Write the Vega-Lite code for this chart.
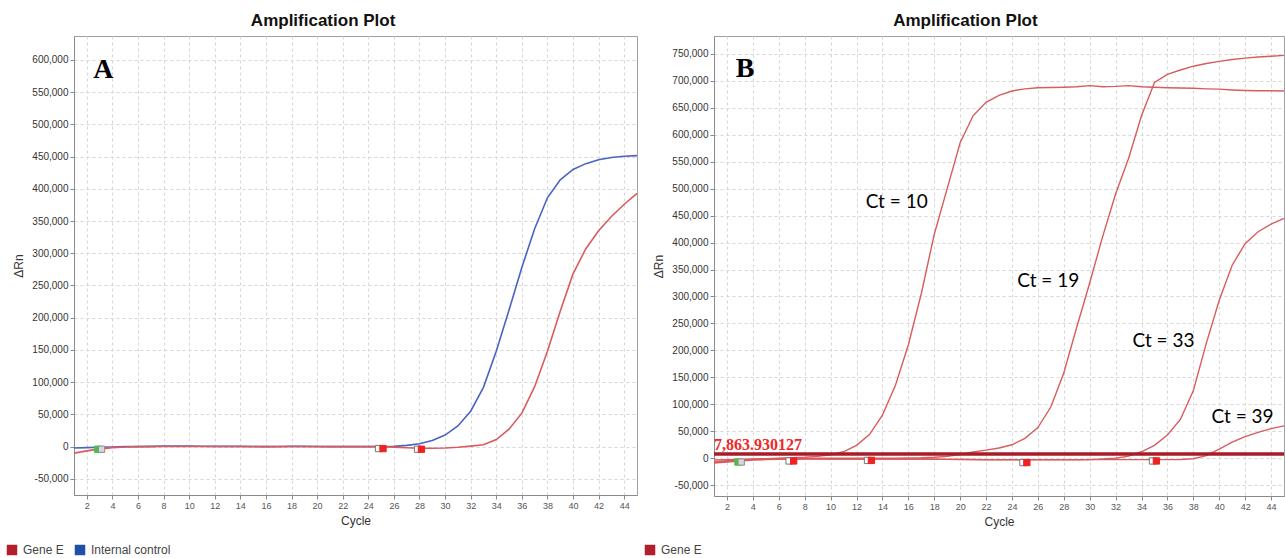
{
  "$schema": "https://vega.github.io/schema/vega-lite/v6.json",
  "background": "white",
  "padding": {"left": 5, "top": 11, "right": 0, "bottom": 0},
  "config": {
    "locale": {"number": {"decimal": ".", "thousands": ",", "grouping": [3], "currency": ["$", ""], "minus": "-"}},
    "view": {"stroke": "#a0a0a0", "strokeWidth": 1},
    "axis": {
      "labelFont": "Liberation Sans", "labelFontSize": 10, "labelColor": "#333",
      "titleFont": "Liberation Sans", "titleFontSize": 12, "titleFontWeight": "normal", "titleColor": "#333",
      "gridColor": "#d6d6d6", "gridDash": [3, 3], "gridWidth": 1,
      "domainColor": "#8a8a8a", "tickColor": "#8a8a8a", "tickSize": 4, "labelPadding": 2,
      "labelOverlap": false, "labelFlush": false
    },
    "axisX": {"labelFontSize": 9, "labelColor": "#555", "titlePadding": 5},
    "axisY": {"titlePadding": 6},
    "title": {"font": "Liberation Sans", "fontSize": 17, "fontWeight": "bold", "color": "#111", "anchor": "middle", "frame": "bounds", "offset": 6},
    "legend": {"orient": "none", "direction": "horizontal", "title": null, "symbolType": "square", "symbolSize": 110, "labelFont": "Liberation Sans", "labelFontSize": 12, "labelColor": "#444", "columnPadding": 10, "labelOffset": 5, "padding": 0}
  },
  "datasets": {
    "ampA": [
      {"cycle":1,"dRn":-2000,"target":"Internal control"},{"cycle":2,"dRn":-1500,"target":"Internal control"},{"cycle":3,"dRn":-1000,"target":"Internal control"},{"cycle":4,"dRn":-500,"target":"Internal control"},{"cycle":5,"dRn":0,"target":"Internal control"},{"cycle":6,"dRn":0,"target":"Internal control"},{"cycle":7,"dRn":500,"target":"Internal control"},{"cycle":8,"dRn":1000,"target":"Internal control"},{"cycle":9,"dRn":1000,"target":"Internal control"},{"cycle":10,"dRn":800,"target":"Internal control"},{"cycle":11,"dRn":600,"target":"Internal control"},{"cycle":12,"dRn":500,"target":"Internal control"},{"cycle":13,"dRn":500,"target":"Internal control"},{"cycle":14,"dRn":500,"target":"Internal control"},{"cycle":15,"dRn":300,"target":"Internal control"},{"cycle":16,"dRn":0,"target":"Internal control"},{"cycle":17,"dRn":200,"target":"Internal control"},{"cycle":18,"dRn":500,"target":"Internal control"},{"cycle":19,"dRn":500,"target":"Internal control"},{"cycle":20,"dRn":300,"target":"Internal control"},{"cycle":21,"dRn":0,"target":"Internal control"},{"cycle":22,"dRn":0,"target":"Internal control"},{"cycle":23,"dRn":0,"target":"Internal control"},{"cycle":24,"dRn":0,"target":"Internal control"},{"cycle":25,"dRn":200,"target":"Internal control"},{"cycle":26,"dRn":500,"target":"Internal control"},{"cycle":27,"dRn":2000,"target":"Internal control"},{"cycle":28,"dRn":4500,"target":"Internal control"},{"cycle":29,"dRn":9500,"target":"Internal control"},{"cycle":30,"dRn":18000,"target":"Internal control"},{"cycle":31,"dRn":32000,"target":"Internal control"},{"cycle":32,"dRn":55000,"target":"Internal control"},{"cycle":33,"dRn":92000,"target":"Internal control"},{"cycle":34,"dRn":148000,"target":"Internal control"},{"cycle":35,"dRn":212000,"target":"Internal control"},{"cycle":36,"dRn":278000,"target":"Internal control"},{"cycle":37,"dRn":338000,"target":"Internal control"},{"cycle":38,"dRn":386000,"target":"Internal control"},{"cycle":39,"dRn":414000,"target":"Internal control"},{"cycle":40,"dRn":430000,"target":"Internal control"},{"cycle":41,"dRn":439000,"target":"Internal control"},{"cycle":42,"dRn":445000,"target":"Internal control"},{"cycle":43,"dRn":448500,"target":"Internal control"},{"cycle":44,"dRn":450500,"target":"Internal control"},{"cycle":45,"dRn":451500,"target":"Internal control"},
      {"cycle":1,"dRn":-10000,"target":"Gene E"},{"cycle":2,"dRn":-6500,"target":"Gene E"},{"cycle":3,"dRn":-3500,"target":"Gene E"},{"cycle":4,"dRn":-1500,"target":"Gene E"},{"cycle":5,"dRn":-500,"target":"Gene E"},{"cycle":6,"dRn":0,"target":"Gene E"},{"cycle":7,"dRn":0,"target":"Gene E"},{"cycle":8,"dRn":200,"target":"Gene E"},{"cycle":9,"dRn":300,"target":"Gene E"},{"cycle":10,"dRn":300,"target":"Gene E"},{"cycle":11,"dRn":200,"target":"Gene E"},{"cycle":12,"dRn":200,"target":"Gene E"},{"cycle":13,"dRn":200,"target":"Gene E"},{"cycle":14,"dRn":200,"target":"Gene E"},{"cycle":15,"dRn":100,"target":"Gene E"},{"cycle":16,"dRn":0,"target":"Gene E"},{"cycle":17,"dRn":100,"target":"Gene E"},{"cycle":18,"dRn":200,"target":"Gene E"},{"cycle":19,"dRn":200,"target":"Gene E"},{"cycle":20,"dRn":100,"target":"Gene E"},{"cycle":21,"dRn":0,"target":"Gene E"},{"cycle":22,"dRn":0,"target":"Gene E"},{"cycle":23,"dRn":0,"target":"Gene E"},{"cycle":24,"dRn":0,"target":"Gene E"},{"cycle":25,"dRn":0,"target":"Gene E"},{"cycle":26,"dRn":-800,"target":"Gene E"},{"cycle":27,"dRn":-1800,"target":"Gene E"},{"cycle":28,"dRn":-2500,"target":"Gene E"},{"cycle":29,"dRn":-2500,"target":"Gene E"},{"cycle":30,"dRn":-2000,"target":"Gene E"},{"cycle":31,"dRn":-1000,"target":"Gene E"},{"cycle":32,"dRn":800,"target":"Gene E"},{"cycle":33,"dRn":3000,"target":"Gene E"},{"cycle":34,"dRn":11000,"target":"Gene E"},{"cycle":35,"dRn":27000,"target":"Gene E"},{"cycle":36,"dRn":52000,"target":"Gene E"},{"cycle":37,"dRn":93000,"target":"Gene E"},{"cycle":38,"dRn":148000,"target":"Gene E"},{"cycle":39,"dRn":210000,"target":"Gene E"},{"cycle":40,"dRn":268000,"target":"Gene E"},{"cycle":41,"dRn":307000,"target":"Gene E"},{"cycle":42,"dRn":335000,"target":"Gene E"},{"cycle":43,"dRn":357000,"target":"Gene E"},{"cycle":44,"dRn":376000,"target":"Gene E"},{"cycle":45,"dRn":393000,"target":"Gene E"}
    ],
    "ampB": [
      {"cycle":1,"dRn":-3000,"run":1,"target":"Gene E"},{"cycle":2,"dRn":-2500,"run":1,"target":"Gene E"},{"cycle":3,"dRn":-2000,"run":1,"target":"Gene E"},{"cycle":4,"dRn":-1500,"run":1,"target":"Gene E"},{"cycle":5,"dRn":-800,"run":1,"target":"Gene E"},{"cycle":6,"dRn":0,"run":1,"target":"Gene E"},{"cycle":7,"dRn":800,"run":1,"target":"Gene E"},{"cycle":8,"dRn":1800,"run":1,"target":"Gene E"},{"cycle":9,"dRn":3500,"run":1,"target":"Gene E"},{"cycle":10,"dRn":6500,"run":1,"target":"Gene E"},{"cycle":11,"dRn":12000,"run":1,"target":"Gene E"},{"cycle":12,"dRn":24000,"run":1,"target":"Gene E"},{"cycle":13,"dRn":44000,"run":1,"target":"Gene E"},{"cycle":14,"dRn":80000,"run":1,"target":"Gene E"},{"cycle":15,"dRn":135000,"run":1,"target":"Gene E"},{"cycle":16,"dRn":210000,"run":1,"target":"Gene E"},{"cycle":17,"dRn":305000,"run":1,"target":"Gene E"},{"cycle":18,"dRn":415000,"run":1,"target":"Gene E"},{"cycle":19,"dRn":500000,"run":1,"target":"Gene E"},{"cycle":20,"dRn":585000,"run":1,"target":"Gene E"},{"cycle":21,"dRn":635000,"run":1,"target":"Gene E"},{"cycle":22,"dRn":660000,"run":1,"target":"Gene E"},{"cycle":23,"dRn":673000,"run":1,"target":"Gene E"},{"cycle":24,"dRn":681000,"run":1,"target":"Gene E"},{"cycle":25,"dRn":685000,"run":1,"target":"Gene E"},{"cycle":26,"dRn":687000,"run":1,"target":"Gene E"},{"cycle":27,"dRn":687500,"run":1,"target":"Gene E"},{"cycle":28,"dRn":688000,"run":1,"target":"Gene E"},{"cycle":29,"dRn":689000,"run":1,"target":"Gene E"},{"cycle":30,"dRn":691000,"run":1,"target":"Gene E"},{"cycle":31,"dRn":689000,"run":1,"target":"Gene E"},{"cycle":32,"dRn":689500,"run":1,"target":"Gene E"},{"cycle":33,"dRn":691000,"run":1,"target":"Gene E"},{"cycle":34,"dRn":689000,"run":1,"target":"Gene E"},{"cycle":35,"dRn":688000,"run":1,"target":"Gene E"},{"cycle":36,"dRn":687000,"run":1,"target":"Gene E"},{"cycle":37,"dRn":686500,"run":1,"target":"Gene E"},{"cycle":38,"dRn":686000,"run":1,"target":"Gene E"},{"cycle":39,"dRn":685000,"run":1,"target":"Gene E"},{"cycle":40,"dRn":684500,"run":1,"target":"Gene E"},{"cycle":41,"dRn":683000,"run":1,"target":"Gene E"},{"cycle":42,"dRn":682000,"run":1,"target":"Gene E"},{"cycle":43,"dRn":681500,"run":1,"target":"Gene E"},{"cycle":44,"dRn":681500,"run":1,"target":"Gene E"},{"cycle":45,"dRn":681000,"run":1,"target":"Gene E"},
      {"cycle":1,"dRn":-6000,"run":2,"target":"Gene E"},{"cycle":2,"dRn":-4500,"run":2,"target":"Gene E"},{"cycle":3,"dRn":-3000,"run":2,"target":"Gene E"},{"cycle":4,"dRn":-2000,"run":2,"target":"Gene E"},{"cycle":5,"dRn":-1200,"run":2,"target":"Gene E"},{"cycle":6,"dRn":-800,"run":2,"target":"Gene E"},{"cycle":7,"dRn":-500,"run":2,"target":"Gene E"},{"cycle":8,"dRn":-300,"run":2,"target":"Gene E"},{"cycle":9,"dRn":0,"run":2,"target":"Gene E"},{"cycle":10,"dRn":0,"run":2,"target":"Gene E"},{"cycle":11,"dRn":0,"run":2,"target":"Gene E"},{"cycle":12,"dRn":0,"run":2,"target":"Gene E"},{"cycle":13,"dRn":0,"run":2,"target":"Gene E"},{"cycle":14,"dRn":0,"run":2,"target":"Gene E"},{"cycle":15,"dRn":200,"run":2,"target":"Gene E"},{"cycle":16,"dRn":400,"run":2,"target":"Gene E"},{"cycle":17,"dRn":800,"run":2,"target":"Gene E"},{"cycle":18,"dRn":1800,"run":2,"target":"Gene E"},{"cycle":19,"dRn":3500,"run":2,"target":"Gene E"},{"cycle":20,"dRn":7000,"run":2,"target":"Gene E"},{"cycle":21,"dRn":11500,"run":2,"target":"Gene E"},{"cycle":22,"dRn":15000,"run":2,"target":"Gene E"},{"cycle":23,"dRn":19000,"run":2,"target":"Gene E"},{"cycle":24,"dRn":25000,"run":2,"target":"Gene E"},{"cycle":25,"dRn":37000,"run":2,"target":"Gene E"},{"cycle":26,"dRn":57000,"run":2,"target":"Gene E"},{"cycle":27,"dRn":95000,"run":2,"target":"Gene E"},{"cycle":28,"dRn":158000,"run":2,"target":"Gene E"},{"cycle":29,"dRn":243000,"run":2,"target":"Gene E"},{"cycle":30,"dRn":325000,"run":2,"target":"Gene E"},{"cycle":31,"dRn":411000,"run":2,"target":"Gene E"},{"cycle":32,"dRn":490000,"run":2,"target":"Gene E"},{"cycle":33,"dRn":556000,"run":2,"target":"Gene E"},{"cycle":34,"dRn":635000,"run":2,"target":"Gene E"},{"cycle":35,"dRn":697000,"run":2,"target":"Gene E"},{"cycle":36,"dRn":712000,"run":2,"target":"Gene E"},{"cycle":37,"dRn":720000,"run":2,"target":"Gene E"},{"cycle":38,"dRn":727000,"run":2,"target":"Gene E"},{"cycle":39,"dRn":732000,"run":2,"target":"Gene E"},{"cycle":40,"dRn":736000,"run":2,"target":"Gene E"},{"cycle":41,"dRn":739500,"run":2,"target":"Gene E"},{"cycle":42,"dRn":742000,"run":2,"target":"Gene E"},{"cycle":43,"dRn":744000,"run":2,"target":"Gene E"},{"cycle":44,"dRn":745500,"run":2,"target":"Gene E"},{"cycle":45,"dRn":747000,"run":2,"target":"Gene E"},
      {"cycle":1,"dRn":-8000,"run":3,"target":"Gene E"},{"cycle":2,"dRn":-6000,"run":3,"target":"Gene E"},{"cycle":3,"dRn":-4000,"run":3,"target":"Gene E"},{"cycle":4,"dRn":-2500,"run":3,"target":"Gene E"},{"cycle":5,"dRn":-1500,"run":3,"target":"Gene E"},{"cycle":6,"dRn":-1000,"run":3,"target":"Gene E"},{"cycle":7,"dRn":-1000,"run":3,"target":"Gene E"},{"cycle":8,"dRn":-1000,"run":3,"target":"Gene E"},{"cycle":9,"dRn":-1200,"run":3,"target":"Gene E"},{"cycle":10,"dRn":-1500,"run":3,"target":"Gene E"},{"cycle":11,"dRn":-1500,"run":3,"target":"Gene E"},{"cycle":12,"dRn":-1500,"run":3,"target":"Gene E"},{"cycle":13,"dRn":-1500,"run":3,"target":"Gene E"},{"cycle":14,"dRn":-1500,"run":3,"target":"Gene E"},{"cycle":15,"dRn":-1500,"run":3,"target":"Gene E"},{"cycle":16,"dRn":-1500,"run":3,"target":"Gene E"},{"cycle":17,"dRn":-1500,"run":3,"target":"Gene E"},{"cycle":18,"dRn":-1800,"run":3,"target":"Gene E"},{"cycle":19,"dRn":-2000,"run":3,"target":"Gene E"},{"cycle":20,"dRn":-2200,"run":3,"target":"Gene E"},{"cycle":21,"dRn":-2500,"run":3,"target":"Gene E"},{"cycle":22,"dRn":-2800,"run":3,"target":"Gene E"},{"cycle":23,"dRn":-3000,"run":3,"target":"Gene E"},{"cycle":24,"dRn":-3000,"run":3,"target":"Gene E"},{"cycle":25,"dRn":-3000,"run":3,"target":"Gene E"},{"cycle":26,"dRn":-3000,"run":3,"target":"Gene E"},{"cycle":27,"dRn":-3000,"run":3,"target":"Gene E"},{"cycle":28,"dRn":-3000,"run":3,"target":"Gene E"},{"cycle":29,"dRn":-2800,"run":3,"target":"Gene E"},{"cycle":30,"dRn":-2500,"run":3,"target":"Gene E"},{"cycle":31,"dRn":-1500,"run":3,"target":"Gene E"},{"cycle":32,"dRn":0,"run":3,"target":"Gene E"},{"cycle":33,"dRn":4000,"run":3,"target":"Gene E"},{"cycle":34,"dRn":12000,"run":3,"target":"Gene E"},{"cycle":35,"dRn":24000,"run":3,"target":"Gene E"},{"cycle":36,"dRn":43000,"run":3,"target":"Gene E"},{"cycle":37,"dRn":72000,"run":3,"target":"Gene E"},{"cycle":38,"dRn":125000,"run":3,"target":"Gene E"},{"cycle":39,"dRn":213000,"run":3,"target":"Gene E"},{"cycle":40,"dRn":293000,"run":3,"target":"Gene E"},{"cycle":41,"dRn":358000,"run":3,"target":"Gene E"},{"cycle":42,"dRn":398000,"run":3,"target":"Gene E"},{"cycle":43,"dRn":420000,"run":3,"target":"Gene E"},{"cycle":44,"dRn":434000,"run":3,"target":"Gene E"},{"cycle":45,"dRn":445000,"run":3,"target":"Gene E"},
      {"cycle":1,"dRn":-9000,"run":4,"target":"Gene E"},{"cycle":2,"dRn":-7000,"run":4,"target":"Gene E"},{"cycle":3,"dRn":-5000,"run":4,"target":"Gene E"},{"cycle":4,"dRn":-3500,"run":4,"target":"Gene E"},{"cycle":5,"dRn":-2500,"run":4,"target":"Gene E"},{"cycle":6,"dRn":-2000,"run":4,"target":"Gene E"},{"cycle":7,"dRn":-1800,"run":4,"target":"Gene E"},{"cycle":8,"dRn":-1500,"run":4,"target":"Gene E"},{"cycle":9,"dRn":-1500,"run":4,"target":"Gene E"},{"cycle":10,"dRn":-1500,"run":4,"target":"Gene E"},{"cycle":11,"dRn":-1500,"run":4,"target":"Gene E"},{"cycle":12,"dRn":-1500,"run":4,"target":"Gene E"},{"cycle":13,"dRn":-1500,"run":4,"target":"Gene E"},{"cycle":14,"dRn":-1500,"run":4,"target":"Gene E"},{"cycle":15,"dRn":-1500,"run":4,"target":"Gene E"},{"cycle":16,"dRn":-1500,"run":4,"target":"Gene E"},{"cycle":17,"dRn":-1500,"run":4,"target":"Gene E"},{"cycle":18,"dRn":-1800,"run":4,"target":"Gene E"},{"cycle":19,"dRn":-2000,"run":4,"target":"Gene E"},{"cycle":20,"dRn":-2000,"run":4,"target":"Gene E"},{"cycle":21,"dRn":-2200,"run":4,"target":"Gene E"},{"cycle":22,"dRn":-2500,"run":4,"target":"Gene E"},{"cycle":23,"dRn":-2500,"run":4,"target":"Gene E"},{"cycle":24,"dRn":-2500,"run":4,"target":"Gene E"},{"cycle":25,"dRn":-2500,"run":4,"target":"Gene E"},{"cycle":26,"dRn":-2500,"run":4,"target":"Gene E"},{"cycle":27,"dRn":-2500,"run":4,"target":"Gene E"},{"cycle":28,"dRn":-2500,"run":4,"target":"Gene E"},{"cycle":29,"dRn":-2500,"run":4,"target":"Gene E"},{"cycle":30,"dRn":-2500,"run":4,"target":"Gene E"},{"cycle":31,"dRn":-2500,"run":4,"target":"Gene E"},{"cycle":32,"dRn":-2500,"run":4,"target":"Gene E"},{"cycle":33,"dRn":-2500,"run":4,"target":"Gene E"},{"cycle":34,"dRn":-2500,"run":4,"target":"Gene E"},{"cycle":35,"dRn":-2500,"run":4,"target":"Gene E"},{"cycle":36,"dRn":-2500,"run":4,"target":"Gene E"},{"cycle":37,"dRn":-2200,"run":4,"target":"Gene E"},{"cycle":38,"dRn":-1000,"run":4,"target":"Gene E"},{"cycle":39,"dRn":5000,"run":4,"target":"Gene E"},{"cycle":40,"dRn":17000,"run":4,"target":"Gene E"},{"cycle":41,"dRn":30000,"run":4,"target":"Gene E"},{"cycle":42,"dRn":40000,"run":4,"target":"Gene E"},{"cycle":43,"dRn":48000,"run":4,"target":"Gene E"},{"cycle":44,"dRn":55000,"run":4,"target":"Gene E"},{"cycle":45,"dRn":60000,"run":4,"target":"Gene E"}
    ],
    "markersA": [
      {"cycle":2.85,"dRn":-4000,"kind":"green"},{"cycle":3.15,"dRn":-4000,"kind":"grey"},
      {"cycle":24.8,"dRn":-3000,"kind":"white"},{"cycle":25.15,"dRn":-3000,"kind":"red"},
      {"cycle":27.85,"dRn":-4000,"kind":"white"},{"cycle":28.15,"dRn":-4000,"kind":"red"}
    ],
    "markersB": [
      {"cycle":2.85,"dRn":-7000,"kind":"green"},{"cycle":3.1,"dRn":-7000,"kind":"grey"},
      {"cycle":6.8,"dRn":-5000,"kind":"white"},{"cycle":7.15,"dRn":-5000,"kind":"red"},
      {"cycle":12.85,"dRn":-4000,"kind":"white"},{"cycle":13.15,"dRn":-4000,"kind":"red"},
      {"cycle":24.85,"dRn":-8000,"kind":"white"},{"cycle":25.15,"dRn":-8000,"kind":"red"},
      {"cycle":34.85,"dRn":-5000,"kind":"white"},{"cycle":35.15,"dRn":-5000,"kind":"red"}
    ],
    "panelLabelA": [{"cycle":3.3,"dRn":584000,"label":"A"}],
    "panelLabelB": [{"cycle":3.4,"dRn":722000,"label":"B"}],
    "ctLabels": [
      {"cycle":15.1,"dRn":475000,"label":"Ct = 10"},
      {"cycle":26.8,"dRn":328000,"label":"Ct = 19"},
      {"cycle":35.7,"dRn":217000,"label":"Ct = 33"},
      {"cycle":41.8,"dRn":77000,"label":"Ct = 39"}
    ],
    "thresholdB": [{"cycle":1,"threshold":7863.930127,"label":"7,863.930127"}]
  },
  "bounds": "flush",
  "spacing": 77,
  "resolve": {"scale": {"color": "independent", "fill": "independent", "stroke": "independent"}, "legend": {"color": "independent"}},
  "hconcat": [
    {
      "width": 563,
      "height": 459,
      "title": "Amplification Plot",
      "layer": [
        {
          "data": {"name": "ampA"},
          "mark": {"type": "line", "strokeWidth": 1.6},
          "encoding": {
            "x": {"field": "cycle", "type": "quantitative", "scale": {"domain": [1, 45], "nice": false, "zero": false}, "axis": {"title": "Cycle", "tickCount": 60, "values": [2,4,6,8,10,12,14,16,18,20,22,24,26,28,30,32,34,36,38,40,42,44], "format": "d"}},
            "y": {"field": "dRn", "type": "quantitative", "scale": {"domain": [-75000, 637000], "nice": false, "zero": false}, "axis": {"title": "ΔRn", "tickCount": 60, "format": ",d", "values": [-50000,0,50000,100000,150000,200000,250000,300000,350000,400000,450000,500000,550000,600000]}},
            "color": {"field": "target", "type": "nominal", "scale": {"domain": ["Gene E", "Internal control"], "range": ["#DA5B5E", "#4A63C2"]},
              "legend": {"legendX": -68, "legendY": 508, "encode": {"symbols": {"update": {"fill": {"signal": "datum.value === 'Gene E' ? '#B21E2C' : '#1E50A8'"}, "stroke": {"signal": "datum.value === 'Gene E' ? '#B21E2C' : '#1E50A8'"}, "strokeWidth": {"value": 0}}}}}},
            "order": {"field": "cycle", "type": "quantitative"}
          }
        },
        {
          "data": {"name": "markersA"},
          "mark": {"type": "point", "shape": "square", "filled": true, "size": 40, "strokeWidth": 1, "opacity": 1},
          "encoding": {
            "x": {"field": "cycle", "type": "quantitative"},
            "y": {"field": "dRn", "type": "quantitative"},
            "fill": {"field": "kind", "type": "nominal", "scale": {"domain": ["green", "grey", "white", "red"], "range": ["#46C046", "#d8d8d8", "#ffffff", "#EE2222"]}, "legend": null},
            "stroke": {"field": "kind", "type": "nominal", "scale": {"domain": ["green", "grey", "white", "red"], "range": ["#46C046", "#8a8a8a", "#777777", "#EE2222"]}, "legend": null}
          }
        },
        {
          "data": {"name": "panelLabelA"},
          "mark": {"type": "text", "font": "Liberation Serif", "fontWeight": "bold", "fontSize": 28, "color": "#000", "align": "center", "baseline": "middle"},
          "encoding": {
            "x": {"field": "cycle", "type": "quantitative"},
            "y": {"field": "dRn", "type": "quantitative"},
            "text": {"field": "label"}
          }
        }
      ]
    },
    {
      "width": 570,
      "height": 460,
      "title": "Amplification Plot",
      "layer": [
        {
          "data": {"name": "ampB"},
          "mark": {"type": "line", "strokeWidth": 1.4},
          "encoding": {
            "x": {"field": "cycle", "type": "quantitative", "scale": {"domain": [1, 45], "nice": false, "zero": false}, "axis": {"title": "Cycle", "tickCount": 60, "values": [2,4,6,8,10,12,14,16,18,20,22,24,26,28,30,32,34,36,38,40,42,44], "format": "d"}},
            "y": {"field": "dRn", "type": "quantitative", "scale": {"domain": [-70000, 783000], "nice": false, "zero": false}, "axis": {"title": "ΔRn", "tickCount": 60, "format": ",d", "values": [-50000,0,50000,100000,150000,200000,250000,300000,350000,400000,450000,500000,550000,600000,650000,700000,750000]}},
            "color": {"field": "target", "type": "nominal", "scale": {"domain": ["Gene E"], "range": ["#DA5B5E"]},
              "legend": {"legendX": -70, "legendY": 508, "encode": {"symbols": {"update": {"fill": {"value": "#B21E2C"}, "stroke": {"value": "#B21E2C"}, "strokeWidth": {"value": 0}}}}}},
            "detail": {"field": "run", "type": "nominal"},
            "order": {"field": "cycle", "type": "quantitative"}
          }
        },
        {
          "data": {"name": "thresholdB"},
          "mark": {"type": "rule", "color": "#A81C28", "strokeWidth": 3.5},
          "encoding": {"y": {"field": "threshold", "type": "quantitative"}}
        },
        {
          "data": {"name": "thresholdB"},
          "mark": {"type": "text", "font": "Liberation Serif", "fontSize": 16, "fontWeight": "bold", "color": "#F02828", "align": "left", "baseline": "bottom", "dy": -1, "dx": 0},
          "encoding": {
            "x": {"field": "cycle", "type": "quantitative"},
            "y": {"field": "threshold", "type": "quantitative"},
            "text": {"field": "label"}
          }
        },
        {
          "data": {"name": "markersB"},
          "mark": {"type": "point", "shape": "square", "filled": true, "size": 40, "strokeWidth": 1, "opacity": 1},
          "encoding": {
            "x": {"field": "cycle", "type": "quantitative"},
            "y": {"field": "dRn", "type": "quantitative"},
            "fill": {"field": "kind", "type": "nominal", "scale": {"domain": ["green", "grey", "white", "red"], "range": ["#46C046", "#d8d8d8", "#ffffff", "#EE2222"]}, "legend": null},
            "stroke": {"field": "kind", "type": "nominal", "scale": {"domain": ["green", "grey", "white", "red"], "range": ["#46C046", "#8a8a8a", "#777777", "#EE2222"]}, "legend": null}
          }
        },
        {
          "data": {"name": "ctLabels"},
          "mark": {"type": "text", "font": "Lato", "fontSize": 19, "color": "#000", "align": "center", "baseline": "middle"},
          "encoding": {
            "x": {"field": "cycle", "type": "quantitative"},
            "y": {"field": "dRn", "type": "quantitative"},
            "text": {"field": "label"}
          }
        },
        {
          "data": {"name": "panelLabelB"},
          "mark": {"type": "text", "font": "Liberation Serif", "fontWeight": "bold", "fontSize": 28, "color": "#000", "align": "center", "baseline": "middle"},
          "encoding": {
            "x": {"field": "cycle", "type": "quantitative"},
            "y": {"field": "dRn", "type": "quantitative"},
            "text": {"field": "label"}
          }
        }
      ]
    }
  ]
}
